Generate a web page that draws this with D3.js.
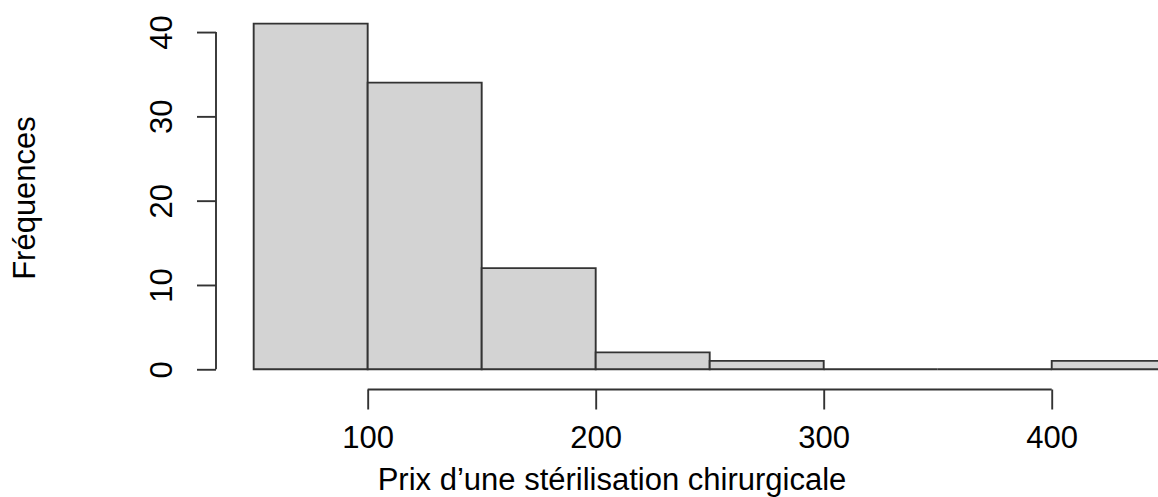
<!DOCTYPE html>
<html><head><meta charset="utf-8">
<script src="https://cdn.jsdelivr.net/npm/d3@7"></script>
<style>
html,body{margin:0;padding:0;background:#fff;overflow:hidden;}
svg{display:block;font-family:"Liberation Sans",Arial,sans-serif;}
</style></head>
<body>
<svg id="chart" width="1158" height="497"></svg>
<script>
const breaks = [50, 100, 150, 200, 250, 300, 350, 400, 450];
const counts = [41, 34, 12, 2, 1, 0, 0, 1];
const xTicks = [100, 200, 300, 400];
const yTicks = [0, 10, 20, 30, 40];
const xTitle = "Prix d\u2019une stérilisation chirurgicale";
const yTitle = "Fréquences";

const bins = counts.map((c, i) => ({x0: breaks[i], x1: breaks[i + 1], n: c}));

const svg = d3.select("#chart");
// plot region (R usr: range extended 4%)
const x = d3.scaleLinear().domain([34, 466]).range([217.2, 1202.2]);
const y = d3.scaleLinear().domain([-1.64, 42.64]).range([383.1, 9.8]);

const ink = "#333";
const lw = 1.9;
const fs = 31;

svg.append("g").selectAll("path").data(bins).join("path")
  .attr("d", d => `M${x(d.x0)},${y(0)}V${y(d.n)}H${x(d.x1)}V${y(0)}Z`)
  .attr("fill", "#d3d3d3")
  .attr("stroke", ink)
  .attr("stroke-width", lw);

// x axis
const axY = 389.5;
const gx = svg.append("g").attr("transform", `translate(0,${axY})`)
  .call(d3.axisBottom(x).tickValues(xTicks).tickSize(20).tickSizeOuter(0));
gx.select(".domain").remove();
gx.append("line").attr("x1", x(xTicks[0])).attr("x2", x(xTicks[xTicks.length - 1]))
  .attr("stroke", ink).attr("stroke-width", lw);
gx.selectAll(".tick line").attr("stroke", ink).attr("stroke-width", lw);
gx.selectAll(".tick text").attr("fill", "#000").attr("font-size", fs)
  .attr("font-family", "Liberation Sans, Arial, sans-serif")
  .attr("y", 58).attr("dy", null);

// y axis
const axX = 216;
const gy = svg.append("g").attr("transform", `translate(${axX},0)`)
  .call(d3.axisLeft(y).tickValues(yTicks).tickSize(19).tickSizeOuter(0));
gy.select(".domain").remove();
gy.append("line").attr("y1", y(yTicks[0])).attr("y2", y(yTicks[yTicks.length - 1]))
  .attr("stroke", ink).attr("stroke-width", lw);
gy.selectAll(".tick line").attr("stroke", ink).attr("stroke-width", lw);
gy.selectAll(".tick text").attr("fill", "#000").attr("font-size", fs)
  .attr("font-family", "Liberation Sans, Arial, sans-serif")
  .attr("x", null).attr("dy", null)
  .attr("text-anchor", "middle")
  .attr("transform", "translate(-44,0) rotate(-90)");

svg.append("text").attr("x", 612).attr("y", 490)
  .attr("text-anchor", "middle").attr("font-size", fs).attr("fill", "#000")
  .text(xTitle);

svg.append("text").attr("transform", `translate(35,${198}) rotate(-90)`)
  .attr("text-anchor", "middle").attr("font-size", fs).attr("fill", "#000")
  .text(yTitle);
</script>
</body></html>
